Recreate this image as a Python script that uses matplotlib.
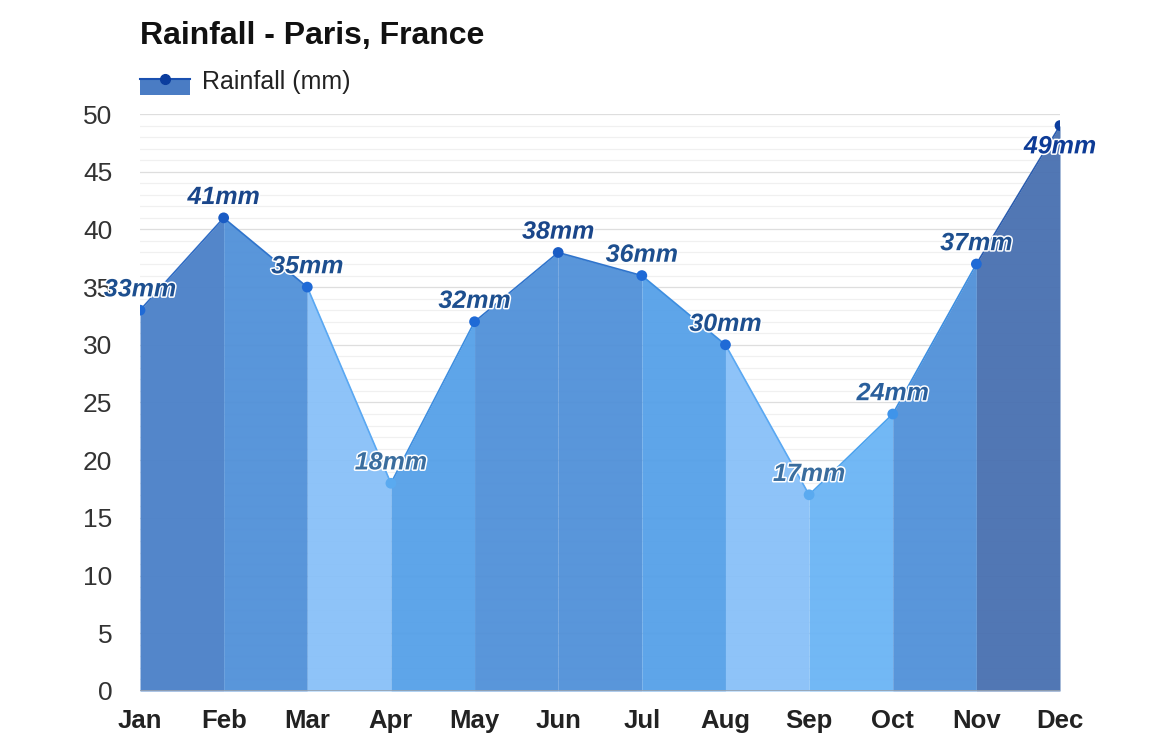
import matplotlib
matplotlib.use("Agg")
import matplotlib.pyplot as plt
import matplotlib.patheffects as pe
from matplotlib.patches import Rectangle
from matplotlib.lines import Line2D

plt.rcParams["font.family"] = ["Liberation Sans", "DejaVu Sans"]

months = ["Jan", "Feb", "Mar", "Apr", "May", "Jun",
          "Jul", "Aug", "Sep", "Oct", "Nov", "Dec"]
rainfall = [33, 41, 35, 18, 32, 38, 36, 30, 17, 24, 37, 49]
labels = [f"{v}mm" for v in rainfall]

# fill colour of the band that starts at each month, and its top edge
seg_colors = ["#4a80c8", "#5090d8", "#88c0f8", "#55a0e8", "#5090d8", "#5090d8",
              "#55a0e8", "#88c0f8", "#6ab4f5", "#5090d8", "#4870b0"]
edge_colors = ["#2f6cc4", "#2f74cc", "#5aa8f2", "#3d8ee0", "#2f74cc", "#2f74cc",
               "#3d8ee0", "#5aa8f2", "#4aa2ee", "#3d8ee0", "#2a5cae"]
point_colors = ["#1f6ad6", "#1a5cc4", "#1f6ad6", "#5aaaf0", "#1f6ad6", "#1a5cc4",
                "#1f6ad6", "#1f6ad6", "#5aaaf0", "#3f94ea", "#1f6ad6", "#0b3d9e"]
label_colors = ["#1d4f8f", "#1a468a", "#1d4f8f", "#3a6d9e", "#1d4f8f", "#1a468a",
                "#1d4f8f", "#1d4f8f", "#3a6d9e", "#2a5f9c", "#1d4f8f", "#0d3b96"]

fig = plt.figure(figsize=(11.6, 7.55), dpi=100)
fig.patch.set_facecolor("white")
ax = fig.add_axes([0.1207, 0.0848, 0.7931, 0.7642])
ax.set_xlim(0, len(months) - 1)
ax.set_ylim(0, 50)

# grid: light minor lines every 1, slightly darker every 5
for y in range(0, 51):
    ax.axhline(y, color="#dedede" if y % 5 == 0 else "#f0f0f0",
               linewidth=0.9, zorder=0)

xs = list(range(len(months)))
for i in range(len(months) - 1):
    ax.fill_between([i, i + 1], [0, 0], [rainfall[i], rainfall[i + 1]],
                    color=seg_colors[i], alpha=0.95, linewidth=0, zorder=1)
    ax.plot([i, i + 1], [rainfall[i], rainfall[i + 1]],
            color=edge_colors[i], linewidth=1.2, zorder=2)

ax.scatter(xs, rainfall, s=60, c=point_colors, zorder=3, linewidths=0)
ax.axhline(0, color="#9aa4b0", linewidth=1.2, zorder=2)

for i, v in enumerate(rainfall):
    off = -15 if i == len(months) - 1 else 15
    ax.annotate(labels[i], (i, v), xytext=(0, off), textcoords="offset points",
                ha="center", va="center", fontsize=18, fontweight="bold",
                fontstyle="italic", color=label_colors[i], zorder=5,
                annotation_clip=False,
                path_effects=[pe.withStroke(linewidth=2.2, foreground="white")])

ax.set_xticks(xs)
ax.set_xticklabels(months, fontsize=18.5, fontweight="bold", color="#222222")
ax.set_yticks(range(0, 51, 5))
ax.set_yticklabels([str(v) for v in range(0, 51, 5)], fontsize=19, color="#333333")
ax.tick_params(axis="x", length=0, pad=13)
ax.tick_params(axis="y", length=0, pad=20)
for s in ax.spines.values():
    s.set_visible(False)

fig.text(0.1207, 0.952, "Rainfall - Paris, France", fontsize=23,
         fontweight="bold", color="#111111", va="center")

# legend swatch
fig.patches.append(Rectangle((0.1207, 0.874), 0.043, 0.021, transform=fig.transFigure,
                             facecolor="#4a7cc4", edgecolor="none"))
fig.lines.append(Line2D([0.1207, 0.1638], [0.895, 0.895], transform=fig.transFigure,
                        color="#1a50b0", linewidth=1.5))
fig.lines.append(Line2D([0.1422], [0.895], transform=fig.transFigure, marker="o",
                        markersize=7, color="#0b3d9e", linewidth=0))
fig.text(0.174, 0.891, "Rainfall (mm)", fontsize=18, color="#222222", va="center")

fig.savefig("out.png", facecolor="white")
